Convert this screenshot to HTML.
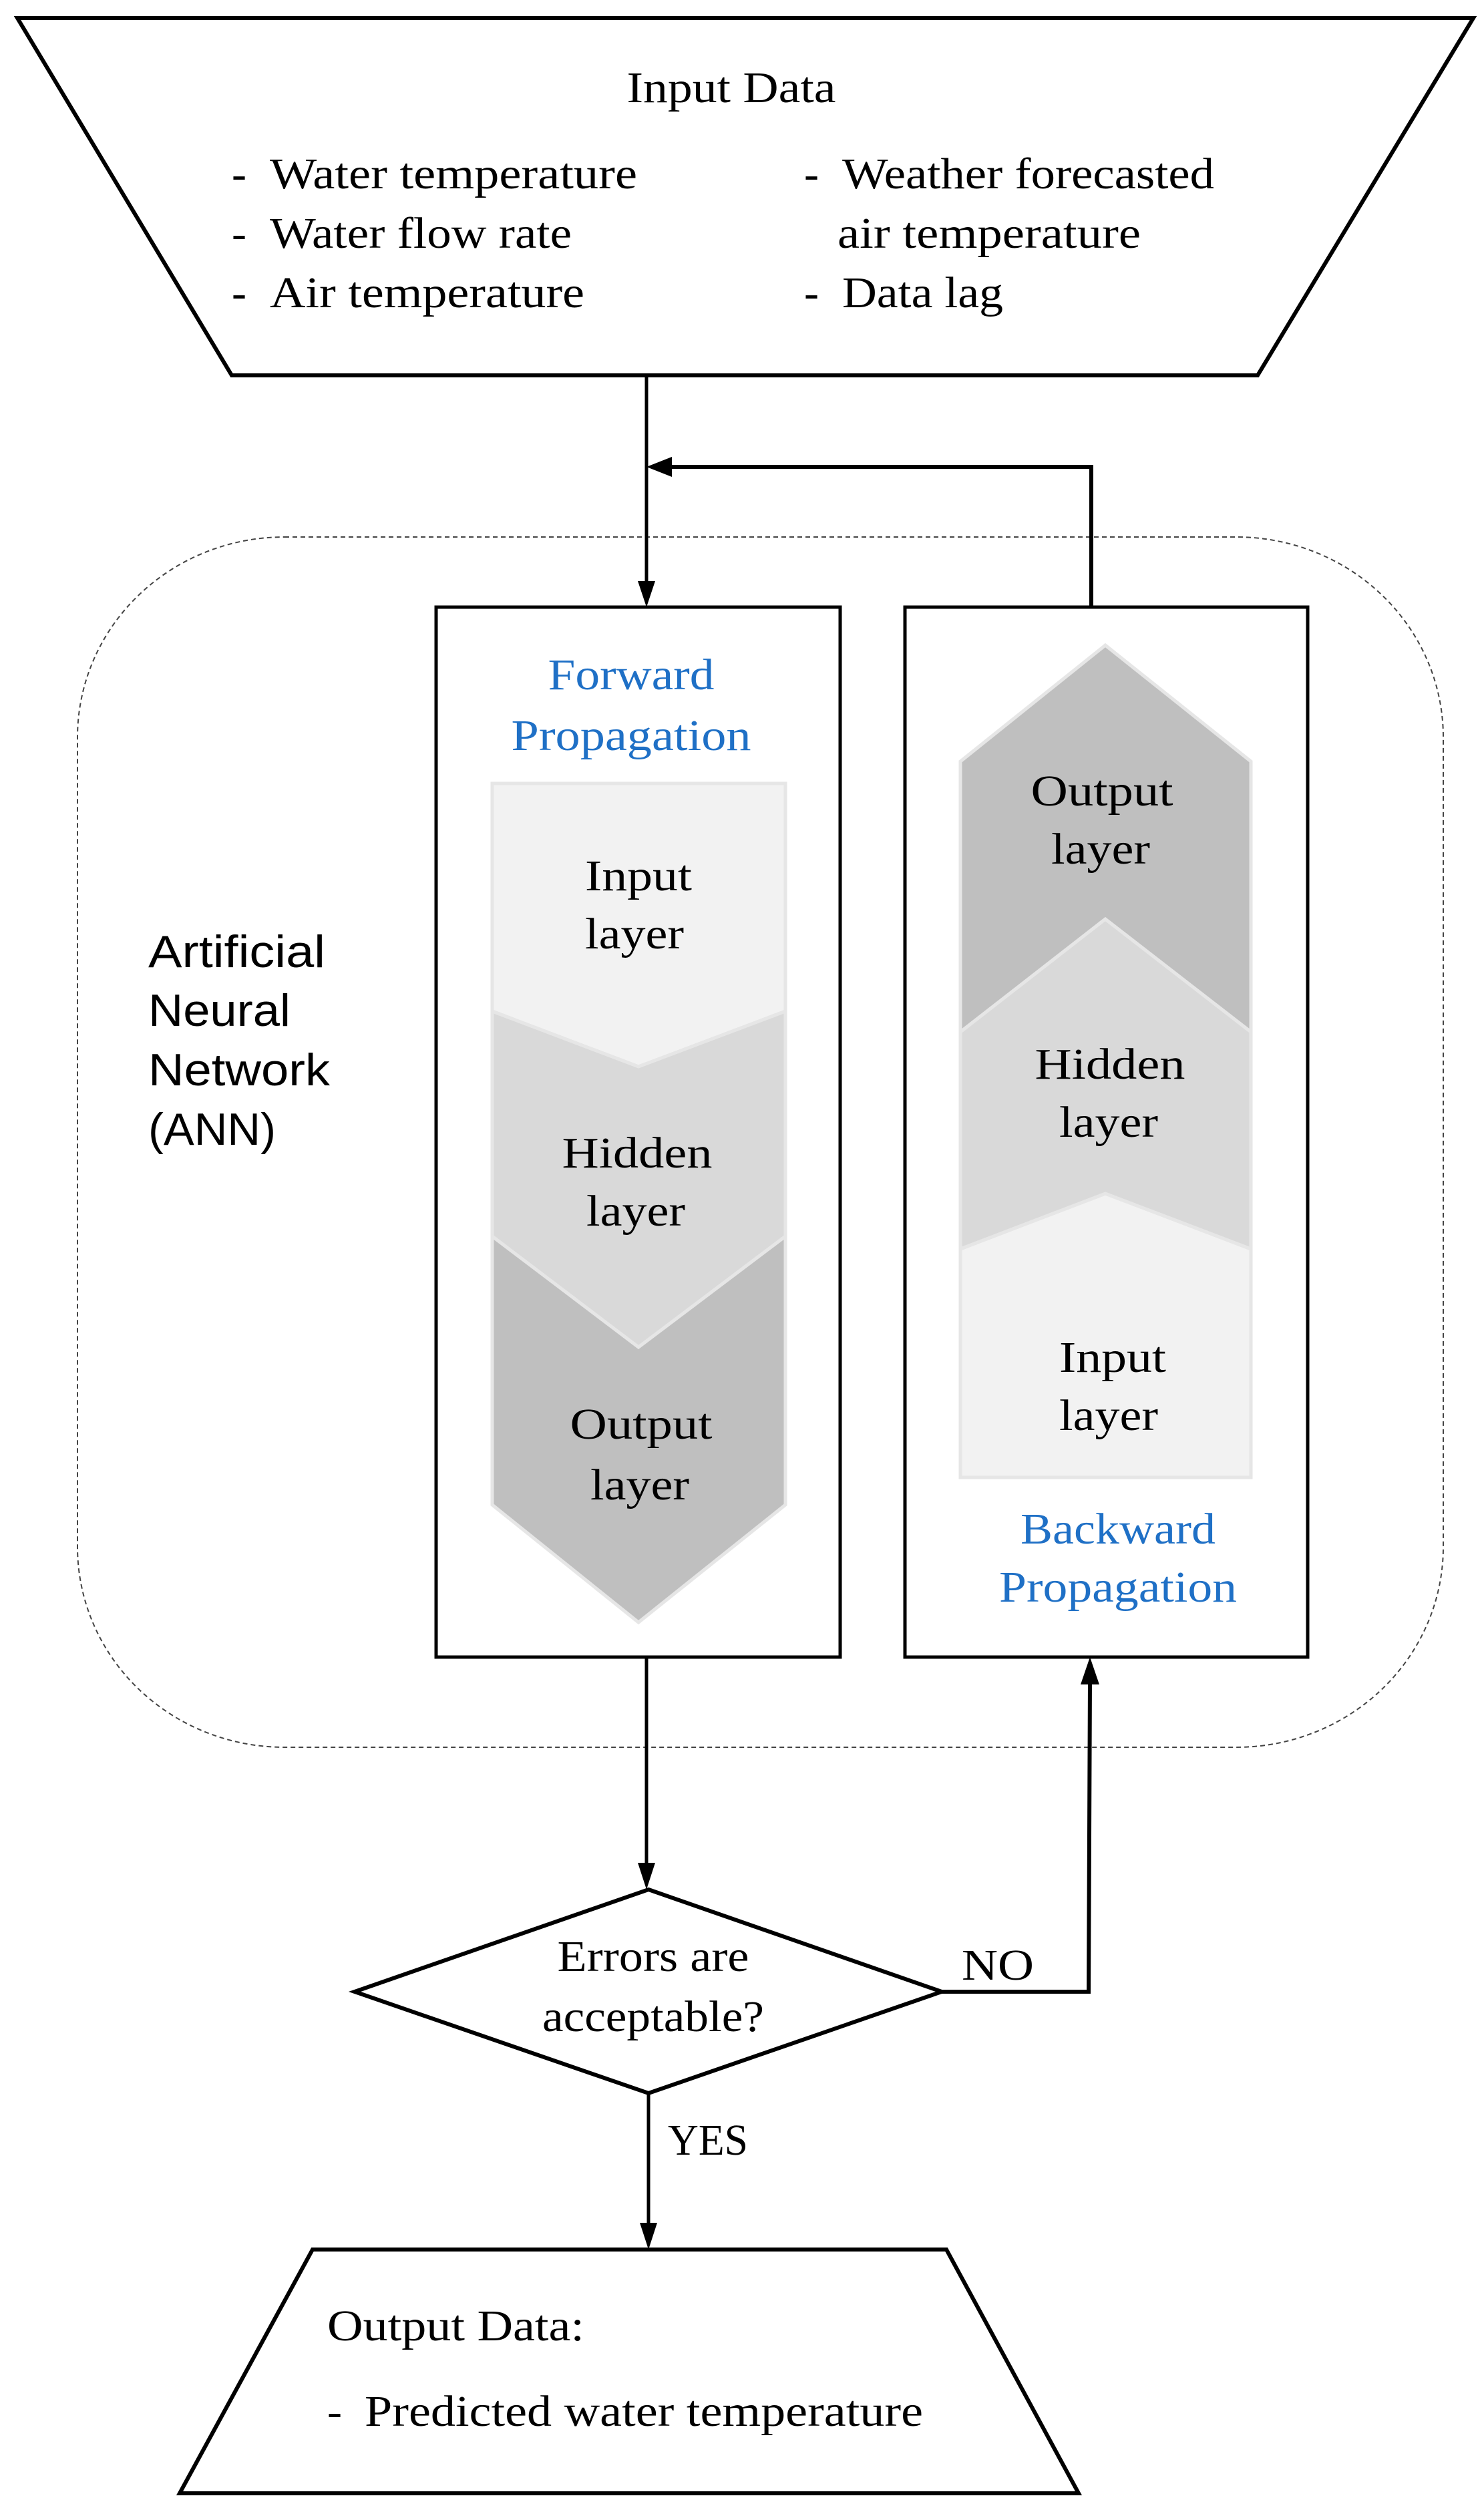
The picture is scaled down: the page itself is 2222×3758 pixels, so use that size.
<!DOCTYPE html>
<html><head><meta charset="utf-8"><style>html,body{margin:0;padding:0;background:#fff}svg{display:block}</style></head>
<body>
<svg width="2222" height="3758" viewBox="0 0 2222 3758" xmlns="http://www.w3.org/2000/svg">
<g font-family="Liberation Serif, serif" font-size="66" fill="#000">
<!-- top trapezoid -->
<polygon points="26,27 2206,27 1883,562 347,562" fill="#fff" stroke="#000" stroke-width="6"/>
<text x="1095" y="153" text-anchor="middle" textLength="313" lengthAdjust="spacingAndGlyphs">Input Data</text>
<text x="347" y="282">-</text><text x="404" y="282" textLength="550" lengthAdjust="spacingAndGlyphs">Water temperature</text>
<text x="347" y="371">-</text><text x="404" y="371" textLength="452" lengthAdjust="spacingAndGlyphs">Water flow rate</text>
<text x="347" y="460">-</text><text x="404" y="460" textLength="471" lengthAdjust="spacingAndGlyphs">Air temperature</text>
<text x="1204" y="282">-</text><text x="1261" y="282" textLength="557" lengthAdjust="spacingAndGlyphs">Weather forecasted</text>
<text x="1254" y="371" textLength="454" lengthAdjust="spacingAndGlyphs">air temperature</text>
<text x="1204" y="460">-</text><text x="1261" y="460" textLength="241" lengthAdjust="spacingAndGlyphs">Data lag</text>

<!-- dashed rounded rect -->
<rect x="116" y="804" width="2045" height="1812" rx="310" ry="300" fill="none" stroke="#444" stroke-width="2" stroke-dasharray="7,5"/>

<!-- connectors top -->
<line x1="968" y1="562" x2="968" y2="875" stroke="#000" stroke-width="5"/>
<polygon points="955,870 981,870 968,909" fill="#000"/>
<polyline points="1634,909 1634,699 1000,699" fill="none" stroke="#000" stroke-width="6"/>
<polygon points="1006,684 1006,714 968,699" fill="#000"/>

<!-- boxes -->
<rect x="653" y="909" width="605" height="1572" fill="#fff" stroke="#000" stroke-width="5"/>
<rect x="1355" y="909" width="603" height="1572" fill="#fff" stroke="#000" stroke-width="5"/>

<!-- forward chevrons -->
<polygon points="737,1173 1176,1173 1176,1514 956,1597 737,1514" fill="#f2f2f2" stroke="#e6e6e6" stroke-width="5"/>
<polygon points="737,1514 956,1597 1176,1514 1176,1851 956,2017 737,1851" fill="#d9d9d9" stroke="#e6e6e6" stroke-width="5"/>
<polygon points="737,1851 956,2017 1176,1851 1176,2253 956,2429 737,2253" fill="#bfbfbf" stroke="#e6e6e6" stroke-width="5"/>
<g fill="#1f70c6" text-anchor="middle"><text x="945" y="1032" textLength="249" lengthAdjust="spacingAndGlyphs">Forward</text><text x="945" y="1123" textLength="359" lengthAdjust="spacingAndGlyphs">Propagation</text></g>
<g text-anchor="middle">
<text x="956" y="1333" textLength="160" lengthAdjust="spacingAndGlyphs">Input</text><text x="950" y="1420" textLength="148" lengthAdjust="spacingAndGlyphs">layer</text>
<text x="954" y="1748" textLength="225" lengthAdjust="spacingAndGlyphs">Hidden</text><text x="952" y="1835" textLength="148" lengthAdjust="spacingAndGlyphs">layer</text>
<text x="960" y="2154" textLength="213" lengthAdjust="spacingAndGlyphs">Output</text><text x="958" y="2245" textLength="148" lengthAdjust="spacingAndGlyphs">layer</text>
</g>

<!-- backward chevrons -->
<polygon points="1438,1870 1655,1787 1873,1870 1873,2212 1438,2212" fill="#f2f2f2" stroke="#e6e6e6" stroke-width="5"/>
<polygon points="1438,1545 1655,1376 1873,1545 1873,1870 1655,1787 1438,1870" fill="#d9d9d9" stroke="#e6e6e6" stroke-width="5"/>
<polygon points="1438,1140 1655,966 1873,1140 1873,1545 1655,1376 1438,1545" fill="#bfbfbf" stroke="#e6e6e6" stroke-width="5"/>
<g text-anchor="middle">
<text x="1650" y="1206" textLength="213" lengthAdjust="spacingAndGlyphs">Output</text><text x="1648" y="1293" textLength="148" lengthAdjust="spacingAndGlyphs">layer</text>
<text x="1662" y="1615" textLength="225" lengthAdjust="spacingAndGlyphs">Hidden</text><text x="1660" y="1702" textLength="148" lengthAdjust="spacingAndGlyphs">layer</text>
<text x="1666" y="2054" textLength="160" lengthAdjust="spacingAndGlyphs">Input</text><text x="1660" y="2141" textLength="148" lengthAdjust="spacingAndGlyphs">layer</text>
</g>
<g fill="#1f70c6" text-anchor="middle"><text x="1674" y="2311" textLength="292" lengthAdjust="spacingAndGlyphs">Backward</text><text x="1674" y="2398" textLength="356" lengthAdjust="spacingAndGlyphs">Propagation</text></g>

<!-- ANN label -->
<g font-family="Liberation Sans, sans-serif" font-size="68">
<text x="222" y="1448" textLength="265" lengthAdjust="spacingAndGlyphs">Artificial</text><text x="222" y="1536" textLength="213" lengthAdjust="spacingAndGlyphs">Neural</text><text x="222" y="1625" textLength="272" lengthAdjust="spacingAndGlyphs">Network</text><text x="222" y="1714" textLength="191" lengthAdjust="spacingAndGlyphs">(ANN)</text>
</g>

<!-- down to diamond -->
<line x1="968" y1="2481" x2="968" y2="2795" stroke="#000" stroke-width="5"/>
<polygon points="955,2789 981,2789 968,2829" fill="#000"/>
<polygon points="971,2829 1410,2982 971,3134 531,2982" fill="#fff" stroke="#000" stroke-width="6"/>
<text x="978" y="2951" text-anchor="middle" textLength="287" lengthAdjust="spacingAndGlyphs">Errors are</text>
<text x="978" y="3041" text-anchor="middle" textLength="332" lengthAdjust="spacingAndGlyphs">acceptable?</text>
<polyline points="1410,2982 1630,2982 1632,2515" fill="none" stroke="#000" stroke-width="6"/>
<polygon points="1618,2522 1646,2522 1632,2481" fill="#000"/>
<text x="1440" y="2964" textLength="108" lengthAdjust="spacingAndGlyphs">NO</text>

<line x1="971" y1="3134" x2="971" y2="3335" stroke="#000" stroke-width="5"/>
<polygon points="958,3328 984,3328 971,3368" fill="#000"/>
<text x="1000" y="3226" textLength="120" lengthAdjust="spacingAndGlyphs">YES</text>

<polygon points="468,3368 1417,3368 1615,3733 269,3733" fill="#fff" stroke="#000" stroke-width="6"/>
<text x="490" y="3504" textLength="385" lengthAdjust="spacingAndGlyphs">Output Data:</text>
<text x="490" y="3632">-</text><text x="546" y="3632" textLength="836" lengthAdjust="spacingAndGlyphs">Predicted water temperature</text>
</g>
</svg>
</body></html>
